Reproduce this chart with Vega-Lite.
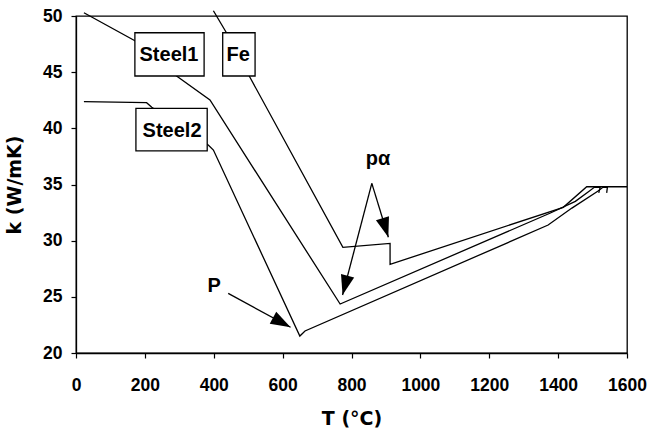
{
  "$schema": "https://vega.github.io/schema/vega-lite/v6.json",
  "width": 551,
  "height": 337,
  "autosize": "none",
  "padding": {"left": 76, "top": 16, "right": 22, "bottom": 81},
  "background": "white",
  "config": {
    "view": {"stroke": "black", "strokeWidth": 1.3},
    "axis": {
      "grid": false,
      "domainColor": "black",
      "domainWidth": 1.3,
      "tickColor": "black",
      "tickWidth": 1.2,
      "tickSize": 5,
      "labelFont": "Liberation Sans",
      "labelFontWeight": "bold",
      "labelFontSize": 17.5,
      "labelColor": "black",
      "labelFlush": false,
      "labelOverlap": false,
      "titleFont": "DejaVu Sans",
      "titleFontWeight": "bold",
      "titleFontSize": 19,
      "titleColor": "black"
    }
  },
  "datasets": {
    "curves": [
      {"s": "Steel1", "o": 1, "T": 23, "k": 50.29},
      {"s": "Steel1", "o": 2, "T": 171, "k": 47.8},
      {"s": "Steel1", "o": 3, "T": 292, "k": 44.66},
      {"s": "Steel1", "o": 4, "T": 389, "k": 42.52},
      {"s": "Steel1", "o": 5, "T": 767, "k": 24.36},
      {"s": "Steel1", "o": 7, "T": 1376, "k": 32.44},
      {"s": "Steel1", "o": 8, "T": 1450, "k": 33.5},
      {"s": "Steel1", "o": 9, "T": 1490, "k": 34.4},
      {"s": "Steel1", "o": 10, "T": 1505, "k": 34.75},
      {"s": "Steel1", "o": 11, "T": 1522, "k": 34.75},
      {"s": "Steel1", "o": 12, "T": 1518, "k": 34.25},
      {"s": "Steel2", "o": 1, "T": 23, "k": 42.37},
      {"s": "Steel2", "o": 2, "T": 205, "k": 42.28},
      {"s": "Steel2", "o": 3, "T": 220, "k": 41.87},
      {"s": "Steel2", "o": 4, "T": 384, "k": 38.52},
      {"s": "Steel2", "o": 5, "T": 399, "k": 38.07},
      {"s": "Steel2", "o": 6, "T": 650, "k": 21.51},
      {"s": "Steel2", "o": 7, "T": 665, "k": 21.96},
      {"s": "Steel2", "o": 9, "T": 1371, "k": 31.39},
      {"s": "Steel2", "o": 10, "T": 1440, "k": 32.9},
      {"s": "Steel2", "o": 11, "T": 1515, "k": 34.4},
      {"s": "Steel2", "o": 12, "T": 1530, "k": 34.75},
      {"s": "Steel2", "o": 13, "T": 1543, "k": 34.75},
      {"s": "Steel2", "o": 14, "T": 1541, "k": 34.25},
      {"s": "Fe", "o": 1, "T": 399, "k": 50.47},
      {"s": "Fe", "o": 2, "T": 436, "k": 48.55},
      {"s": "Fe", "o": 3, "T": 503, "k": 44.66},
      {"s": "Fe", "o": 4, "T": 775, "k": 29.4},
      {"s": "Fe", "o": 5, "T": 912, "k": 29.76},
      {"s": "Fe", "o": 6, "T": 912, "k": 27.89},
      {"s": "Fe", "o": 7, "T": 1415, "k": 32.97},
      {"s": "Fe", "o": 8, "T": 1483, "k": 34.8},
      {"s": "Fe", "o": 9, "T": 1600, "k": 34.8}
    ],
    "arrows": [
      {"a": "P", "o": 1, "T": 442, "k": 25.31},
      {"a": "P", "o": 2, "T": 623, "k": 22.29},
      {"a": "pa1", "o": 1, "T": 859, "k": 35.1},
      {"a": "pa1", "o": 2, "T": 774, "k": 25.16},
      {"a": "pa2", "o": 1, "T": 859, "k": 35.1},
      {"a": "pa2", "o": 2, "T": 907, "k": 30.3}
    ],
    "boxes": [
      {"label": "Steel1", "T": 171, "T2": 372, "k": 48.51, "k2": 44.66},
      {"label": "Fe", "T": 426, "T2": 520, "k": 48.51, "k2": 44.66},
      {"label": "Steel2", "T": 174, "T2": 381, "k": 41.78, "k2": 38.0}
    ],
    "labels": [
      {"label": "Steel1", "T": 270, "k": 46.53},
      {"label": "Fe", "T": 471, "k": 46.53},
      {"label": "Steel2", "T": 279, "k": 39.76},
      {"label": "pα", "T": 877, "k": 37.27},
      {"label": "P", "T": 401, "k": 26.0}
    ]
  },
  "encoding": {
    "x": {
      "field": "T", "type": "quantitative",
      "scale": {"domain": [0, 1600], "nice": false, "zero": false},
      "axis": {"values": [0, 200, 400, 600, 800, 1000, 1200, 1400, 1600], "format": "d", "labelPadding": 18, "titlePadding": 16},
      "title": "T  (°C)"
    },
    "y": {
      "field": "k", "type": "quantitative",
      "scale": {"domain": [20, 50], "nice": false, "zero": false},
      "axis": {"values": [20, 25, 30, 35, 40, 45, 50], "format": "d", "labelPadding": 9, "titlePadding": 18},
      "title": "k (W/mK)"
    }
  },
  "layer": [
    {
      "data": {"name": "curves"},
      "mark": {"type": "line", "color": "black", "strokeWidth": 1.3},
      "encoding": {"detail": {"field": "s"}, "order": {"field": "o", "type": "quantitative"}}
    },
    {
      "data": {"name": "arrows"},
      "mark": {"type": "line", "color": "black", "strokeWidth": 1.3},
      "encoding": {"detail": {"field": "a"}, "order": {"field": "o", "type": "quantitative"}}
    },
    {
      "data": {"name": "arrows"},
      "transform": [{"filter": "datum.a === 'P' && datum.o === 2"}],
      "mark": {"type": "point", "shape": "M0,0L-1,-0.34L-1,0.34Z", "filled": true, "color": "black", "opacity": 1, "size": 1600, "angle": 28.6, "strokeWidth": 0}
    },
    {
      "data": {"name": "arrows"},
      "transform": [{"filter": "datum.a === 'pa1' && datum.o === 2"}],
      "mark": {"type": "point", "shape": "M0,0L-1,-0.34L-1,0.34Z", "filled": true, "color": "black", "opacity": 1, "size": 1600, "angle": 104.6, "strokeWidth": 0}
    },
    {
      "data": {"name": "arrows"},
      "transform": [{"filter": "datum.a === 'pa2' && datum.o === 2"}],
      "mark": {"type": "point", "shape": "M0,0L-1,-0.34L-1,0.34Z", "filled": true, "color": "black", "opacity": 1, "size": 1600, "angle": 72.9, "strokeWidth": 0}
    },
    {
      "data": {"name": "boxes"},
      "mark": {"type": "rect", "fill": "white", "stroke": "black", "strokeWidth": 1.3},
      "encoding": {"x2": {"field": "T2"}, "y2": {"field": "k2"}}
    },
    {
      "data": {"name": "labels"},
      "mark": {"type": "text", "font": "Liberation Sans", "fontWeight": "bold", "fontSize": 20, "color": "black", "align": "center", "baseline": "middle"},
      "encoding": {"text": {"field": "label"}}
    }
  ]
}
